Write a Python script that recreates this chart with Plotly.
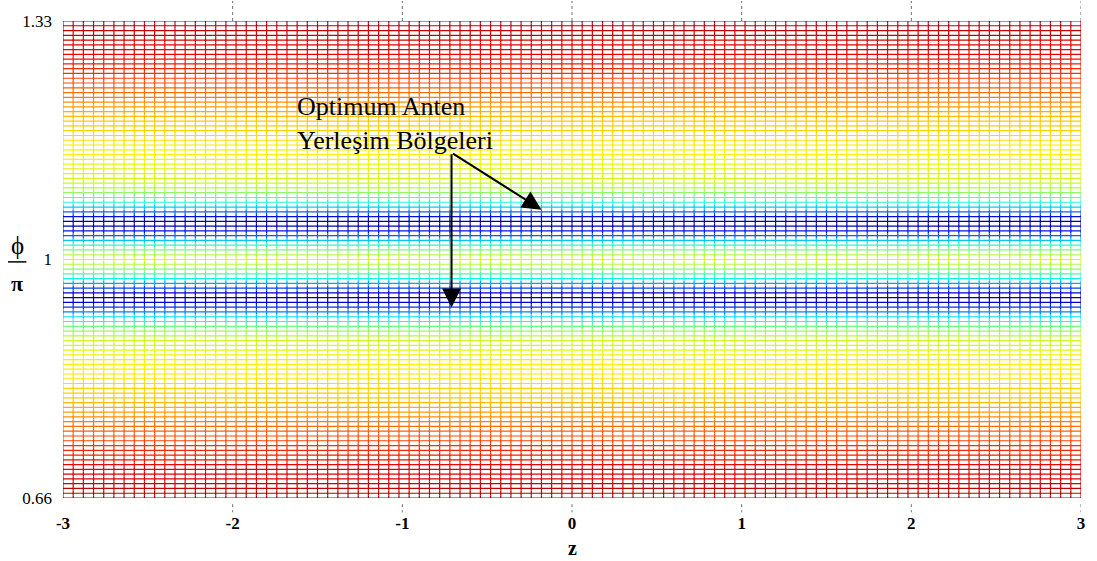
import numpy as np
import plotly.graph_objects as go
from plotly.colors import sample_colorscale

# Mesh coordinates: axial position z and normalised azimuth phi/pi
Z_MIN, Z_MAX, Z_STEPS = -3.0, 3.0, 100
PHI_MIN, PHI_MAX, PHI_STEPS = 2.0 / 3.0, 4.0 / 3.0, 100

# Colour of the field along phi/pi (red = strong, blue = weak)
PHI_STOPS = [0.667, 0.71, 0.745, 0.775, 0.805, 0.85, 0.89, 0.905, 0.918, 0.928,
             0.938, 0.946, 0.955, 0.963, 0.972, 0.985, 1.0, 1.013, 1.024, 1.032,
             1.042, 1.05, 1.059, 1.067, 1.076, 1.09, 1.105, 1.15, 1.195, 1.225,
             1.255, 1.29, 1.333]
STOP_COLORS = ["rgb(180,0,0)", "rgb(230,0,0)", "rgb(255,60,0)", "rgb(255,130,0)",
               "rgb(255,200,0)", "rgb(255,240,0)", "rgb(200,250,40)", "rgb(130,250,120)",
               "rgb(0,245,245)", "rgb(0,110,250)", "rgb(0,0,220)", "rgb(0,0,160)",
               "rgb(0,0,220)", "rgb(0,110,250)", "rgb(0,245,245)", "rgb(130,250,120)",
               "rgb(220,250,20)", "rgb(130,250,120)", "rgb(0,245,245)", "rgb(0,110,250)",
               "rgb(0,0,220)", "rgb(0,0,160)", "rgb(0,0,220)", "rgb(0,110,250)",
               "rgb(0,245,245)", "rgb(130,250,120)", "rgb(200,250,40)", "rgb(255,240,0)",
               "rgb(255,200,0)", "rgb(255,130,0)", "rgb(255,60,0)", "rgb(230,0,0)",
               "rgb(180,0,0)"]

X_TICKS = [-3, -2, -1, 0, 1, 2, 3]
Y_TICKS = [2.0 / 3.0, 1.0, 4.0 / 3.0]
Y_TICK_TEXT = ["0.66", "1", "1.33"]

LABEL_LINES = ["Optimum Anten", "Yerleşim Bölgeleri"]

SERIF = "Liberation Serif"

z = np.linspace(Z_MIN, Z_MAX, Z_STEPS + 1)
phi = np.linspace(PHI_MIN, PHI_MAX, PHI_STEPS + 1)

span = PHI_STOPS[-1] - PHI_STOPS[0]
colorscale = [[(p - PHI_STOPS[0]) / span, c] for p, c in zip(PHI_STOPS, STOP_COLORS)]
colorscale[0][0] = 0.0
colorscale[-1][0] = 1.0
t = np.clip((phi - PHI_STOPS[0]) / span, 0, 1)
row_colors = sample_colorscale(colorscale, list(t))

fig = go.Figure()

# Wireframe: every phi row is one horizontal line plus the vertical mesh
# segments around it, all in that row's colour
for i, p in enumerate(phi):
    lo = (phi[i - 1] + p) / 2 if i > 0 else p
    hi = (phi[i + 1] + p) / 2 if i < len(phi) - 1 else p
    xs = list(z) + [None]
    ys = [p] * len(z) + [None]
    for zz in z:
        xs += [zz, zz, None]
        ys += [lo, hi, None]
    fig.add_trace(go.Scatter(
        x=xs, y=ys, mode="lines",
        line=dict(color=row_colors[i], width=1.2),
        hoverinfo="skip", showlegend=False,
    ))

shapes = []
# dotted tick marks above and below the mesh
for xv in X_TICKS[1:]:
    shapes.append(dict(type="line", xref="x", yref="paper", x0=xv, x1=xv,
                       y0=1.0, y1=1.042,
                       line=dict(color="rgb(110,110,110)", width=1, dash="dot")))
    shapes.append(dict(type="line", xref="x", yref="paper", x0=xv, x1=xv,
                       y0=-0.013, y1=-0.03,
                       line=dict(color="rgb(110,110,110)", width=1, dash="dot")))
# fraction bar of the phi/pi axis title
shapes.append(dict(type="line", xref="paper", yref="paper",
                   x0=-0.054, x1=-0.036, y0=0.495, y1=0.495,
                   line=dict(color="black", width=1.5)))

annotations = [
    dict(text="ϕ", xref="paper", yref="paper", x=-0.045, y=0.53,
         showarrow=False, font=dict(family=SERIF, size=25, color="black"),
         xanchor="center", yanchor="middle"),
    dict(text="<b>π</b>", xref="paper", yref="paper", x=-0.045, y=0.45,
         showarrow=False, font=dict(family=SERIF, size=22, color="black"),
         xanchor="center", yanchor="middle"),
    dict(text="<b>z</b>", xref="x", yref="paper", x=0, y=-0.104,
         showarrow=False, font=dict(family=SERIF, size=20, color="black"),
         xanchor="center", yanchor="middle"),
    dict(text="<br>".join(LABEL_LINES), xref="paper", yref="paper",
         x=0.228, y=0.785, xanchor="left", yanchor="middle", align="left",
         showarrow=False, font=dict(family=SERIF, size=26, color="black")),
    # arrows pointing at the two low-field bands
    dict(text="", x=-0.18, y=1.0697, ax=-0.71, ay=1.1492,
         xref="x", yref="y", axref="x", ayref="y",
         showarrow=True, arrowhead=2, arrowsize=1.9, arrowwidth=2,
         arrowcolor="black", standoff=0),
    dict(text="", x=-0.71, y=0.933, ax=-0.71, ay=1.1492,
         xref="x", yref="y", axref="x", ayref="y",
         showarrow=True, arrowhead=2, arrowsize=1.9, arrowwidth=2,
         arrowcolor="black", standoff=0),
]

fig.update_layout(
    width=1097, height=561,
    margin=dict(l=63, r=12, t=20, b=63),
    paper_bgcolor="white", plot_bgcolor="white",
    shapes=shapes, annotations=annotations,
    xaxis=dict(range=[Z_MIN, Z_MAX], tickvals=X_TICKS,
               ticktext=[f"<b>{v}</b>" for v in X_TICKS],
               showgrid=False, zeroline=False, showline=False, ticks="",
               ticklabelstandoff=13,
               tickfont=dict(family=SERIF, size=17, color="black")),
    yaxis=dict(range=[PHI_MIN, PHI_MAX], tickvals=Y_TICKS, ticktext=Y_TICK_TEXT,
               showgrid=False, zeroline=False, showline=False, ticks="",
               ticklabelstandoff=10,
               tickfont=dict(family=SERIF, size=17, color="black")),
)

fig.write_html("out.html")
